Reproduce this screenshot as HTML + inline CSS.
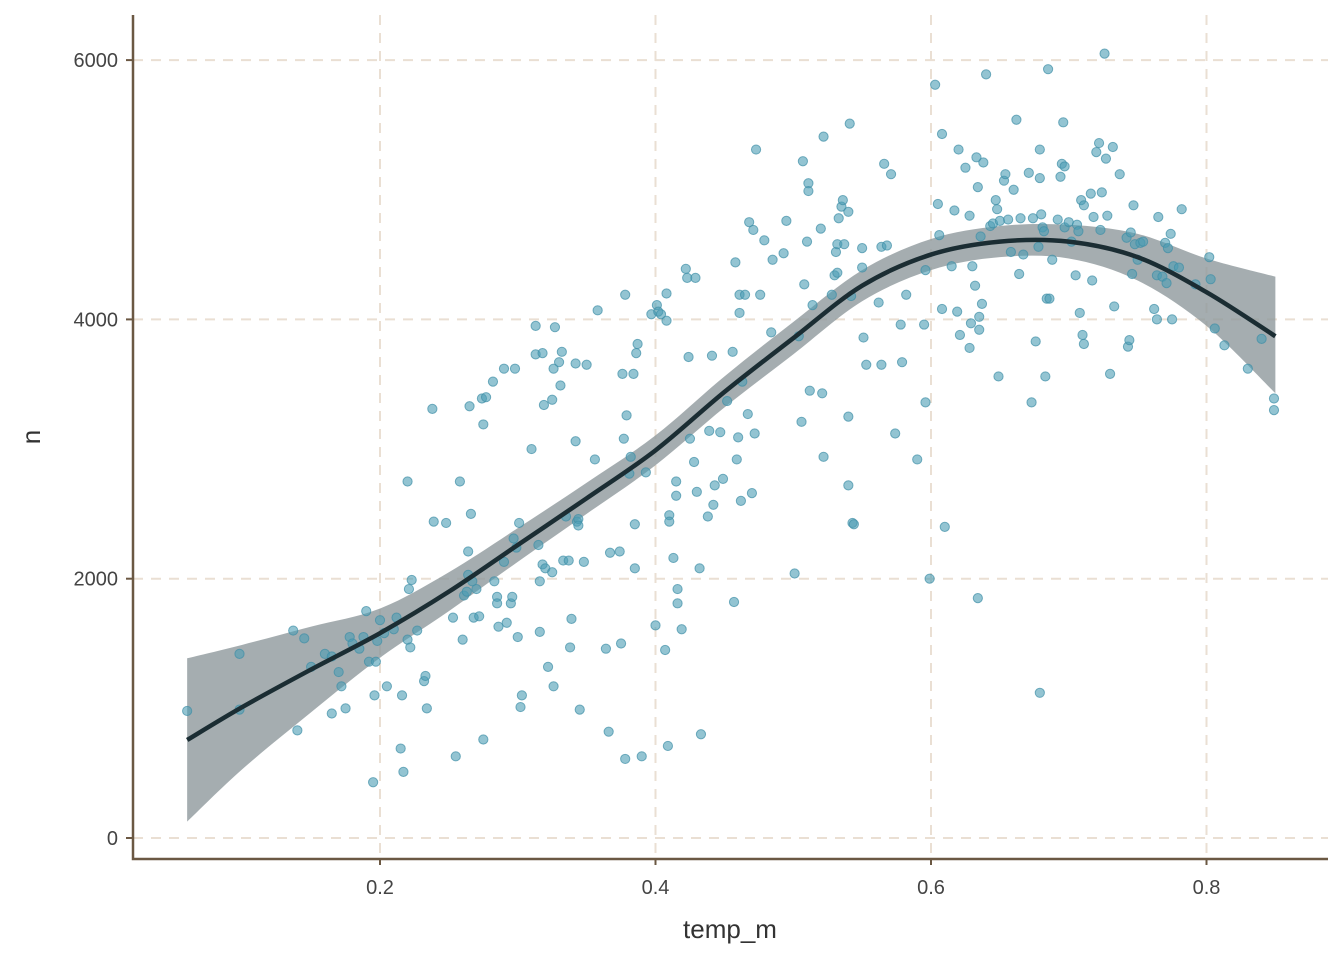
<!DOCTYPE html>
<html><head><meta charset="utf-8"><style>
html,body{margin:0;padding:0;background:#fff;}
svg{display:block;font-family:"Liberation Sans",Arial,sans-serif;}
</style></head><body>
<svg id="chart" width="1344" height="960" viewBox="0 0 1344 960">
<g id="grid"></g>
<g id="band"></g>
<g id="pts"></g>
<g id="fit"></g>
<g id="axes"></g>
<text x="730" y="938" text-anchor="middle" font-size="26" fill="#333">temp_m</text>
<text x="0" y="0" transform="translate(40,437) rotate(-90)" text-anchor="middle" font-size="26" fill="#333">n</text>
</svg>
<script>
const xTicks=[0.2,0.4,0.6,0.8];
const yTicks=[0,2000,4000,6000];
const ptX=[0.06,0.098,0.098,0.137,0.14,0.145,0.15,0.16,0.165,0.165,0.17,0.172,0.175,0.178,0.18,0.185,0.188,0.19,0.192,0.195,0.196,0.197,0.198,0.2,0.203,0.205,0.21,0.212,0.215,0.216,0.217,0.22,0.22,0.221,0.222,0.223,0.227,0.232,0.233,0.234,0.238,0.239,0.248,0.253,0.255,0.258,0.26,0.261,0.263,0.264,0.264,0.265,0.266,0.267,0.268,0.27,0.272,0.274,0.275,0.275,0.277,0.282,0.283,0.285,0.285,0.286,0.29,0.29,0.292,0.295,0.296,0.297,0.298,0.299,0.3,0.301,0.302,0.303,0.31,0.313,0.313,0.315,0.316,0.316,0.318,0.318,0.319,0.32,0.322,0.325,0.325,0.326,0.326,0.327,0.33,0.331,0.332,0.333,0.335,0.337,0.338,0.339,0.342,0.342,0.343,0.344,0.344,0.345,0.348,0.35,0.356,0.358,0.364,0.366,0.367,0.374,0.375,0.376,0.377,0.378,0.378,0.379,0.381,0.382,0.384,0.385,0.386,0.387,0.385,0.39,0.393,0.397,0.4,0.401,0.402,0.404,0.407,0.408,0.408,0.409,0.41,0.41,0.413,0.415,0.415,0.416,0.416,0.419,0.422,0.423,0.424,0.425,0.428,0.429,0.43,0.432,0.433,0.438,0.439,0.441,0.442,0.443,0.447,0.449,0.452,0.456,0.457,0.458,0.459,0.46,0.461,0.461,0.462,0.463,0.465,0.467,0.468,0.47,0.471,0.472,0.473,0.476,0.479,0.484,0.485,0.493,0.495,0.501,0.504,0.506,0.507,0.508,0.51,0.511,0.511,0.512,0.514,0.52,0.521,0.522,0.522,0.528,0.53,0.531,0.532,0.532,0.533,0.535,0.536,0.537,0.54,0.541,0.54,0.54,0.542,0.543,0.544,0.55,0.55,0.551,0.553,0.562,0.564,0.564,0.566,0.568,0.571,0.574,0.578,0.579,0.582,0.59,0.595,0.596,0.596,0.599,0.603,0.605,0.606,0.608,0.608,0.61,0.615,0.617,0.619,0.62,0.621,0.625,0.628,0.628,0.629,0.63,0.632,0.633,0.634,0.634,0.635,0.635,0.636,0.637,0.638,0.64,0.643,0.645,0.647,0.648,0.649,0.65,0.653,0.654,0.656,0.658,0.66,0.662,0.664,0.665,0.667,0.671,0.673,0.674,0.676,0.678,0.679,0.679,0.679,0.68,0.681,0.682,0.683,0.684,0.685,0.686,0.688,0.692,0.694,0.695,0.696,0.697,0.697,0.7,0.702,0.705,0.706,0.707,0.708,0.709,0.71,0.711,0.711,0.716,0.717,0.718,0.72,0.722,0.723,0.724,0.726,0.727,0.728,0.73,0.732,0.733,0.737,0.742,0.743,0.744,0.745,0.746,0.747,0.748,0.75,0.752,0.754,0.762,0.764,0.764,0.765,0.768,0.77,0.771,0.772,0.774,0.775,0.776,0.78,0.782,0.792,0.802,0.803,0.806,0.813,0.83,0.84,0.849,0.849];
const ptY=[980,1420,990,1600,830,1540,1320,1420,1400,960,1280,1170,1000,1550,1500,1460,1550,1750,1360,430,1100,1360,1520,1680,1580,1170,1610,1700,690,1100,510,2750,1530,1920,1470,1990,1600,1210,1250,1000,3310,2440,2430,1700,630,2750,1530,1870,1900,2210,2030,3330,2500,1980,1700,1920,1710,3390,3190,760,3400,3520,1980,1860,1810,1630,3620,2130,1660,1810,1860,2310,3620,2240,1550,2430,1010,1100,3000,3730,3950,2260,1980,1590,3740,2110,3340,2080,1320,3380,2050,3620,1170,3940,3670,3490,3750,2140,2480,2140,1470,1690,3660,3060,2440,2460,2410,990,2130,3650,2920,4070,1460,820,2200,2210,1500,3580,3080,610,4190,3260,2810,2940,3580,2080,3740,3810,2420,630,2820,4040,1640,4110,4060,4040,1450,4200,3990,710,2490,2440,2160,2750,2640,1810,1920,1610,4390,4320,3710,3080,2900,4320,2670,2080,800,2480,3140,3720,2570,2720,3130,2770,3370,3750,1820,4440,2920,3090,4190,4050,2600,3520,4190,3270,4750,2660,4690,3120,5310,4190,4610,3900,4460,4510,4760,2040,3870,3210,5220,4270,4600,5050,4990,3450,4110,4700,3430,5410,2940,4190,4340,4520,4580,4360,4780,4870,4920,4580,4830,5510,3250,2720,4180,2430,2420,4550,4400,3860,3650,4130,4560,3650,5200,4570,5120,3120,3960,3670,4190,2920,3960,3360,4380,2000,5810,4890,4650,4080,5430,2400,4410,4840,4060,5310,3880,5170,4800,3780,3970,4410,4260,5250,5020,1850,3920,4020,4640,4120,5210,5890,4720,4740,4920,4850,3560,4760,5070,5120,4770,4520,5000,5540,4350,4780,4500,5130,3360,4780,3830,4560,5310,1120,5090,4810,4710,4680,3560,4160,5930,4160,4460,4770,5100,5200,5520,5180,4710,4750,4600,4340,4730,4680,4050,4920,3880,4880,3810,4970,4300,4790,5290,5360,4690,4980,6050,5240,4800,3580,5330,4100,5120,4630,3790,3840,4670,4350,4880,4580,4460,4590,4600,4080,4340,4000,4790,4330,4590,4280,4550,4660,4000,4410,4400,4850,4270,4480,4310,3930,3800,3620,3850,3390,3300];
const fitX=[0.06,0.1,0.15,0.2,0.25,0.3,0.35,0.4,0.45,0.5,0.55,0.6,0.65,0.7,0.75,0.8,0.85];
const fitY=[756,1010,1300,1580,1900,2260,2620,2990,3440,3855,4260,4500,4600,4600,4480,4210,3870];
const fitLo=[126,530,970,1390,1750,2130,2500,2875,3320,3730,4140,4380,4480,4470,4300,3950,3430];
const fitHi=[1386,1490,1630,1770,2050,2390,2740,3105,3560,3980,4380,4620,4720,4730,4660,4470,4330];

const NS="http://www.w3.org/2000/svg";
const X=v=>104.5+v*1377.5;
const Y=v=>838-v*0.12965;
function mk(tag,attrs,parent){const e=document.createElementNS(NS,tag);for(const k in attrs)e.setAttribute(k,attrs[k]);parent.appendChild(e);return e;}
const grid=document.getElementById('grid'),axes=document.getElementById('axes');
xTicks.forEach(t=>{
 const l=mk('line',{x1:X(t),x2:X(t),y1:15,y2:858,stroke:'#eadfd3','stroke-width':2,'stroke-dasharray':'10,8'},grid);
 
 
 const tk=mk('line',{x1:X(t),x2:X(t),y1:858,y2:865,stroke:'#6b5843','stroke-width':2},axes);
 
 
 const tx=mk('text',{x:X(t),y:894,'text-anchor':'middle','font-size':20,fill:'#444'},axes);
 tx.textContent=t.toFixed(1);
 
 
});
yTicks.forEach(t=>{
 const l=mk('line',{x1:133,x2:1328,y1:Y(t),y2:Y(t),stroke:'#eadfd3','stroke-width':2,'stroke-dasharray':'10,8'},grid);
 
 
 const tk=mk('line',{x1:126,x2:133,y1:Y(t),y2:Y(t),stroke:'#6b5843','stroke-width':2},axes);
 
 
 const tx=mk('text',{x:118,y:Y(t)+7,'text-anchor':'end','font-size':20,fill:'#444'},axes);
 tx.textContent=String(t);
 
 
});
const ax=mk('path',{d:'M133,15 L133,859 L1328,859',fill:'none',stroke:'#6b5843','stroke-width':2.5},axes);


function smooth(pts){let d='M'+pts[0][0]+','+pts[0][1];for(let i=0;i<pts.length-1;i++){const p0=pts[Math.max(i-1,0)],p1=pts[i],p2=pts[i+1],p3=pts[Math.min(i+2,pts.length-1)];d+=' C'+(p1[0]+(p2[0]-p0[0])/6)+','+(p1[1]+(p2[1]-p0[1])/6)+' '+(p2[0]-(p3[0]-p1[0])/6)+','+(p2[1]-(p3[1]-p1[1])/6)+' '+p2[0]+','+p2[1];}return d;}
const hi=fitX.map((x,i)=>[X(x),Y(fitHi[i])]);
const lo=fitX.map((x,i)=>[X(x),Y(fitLo[i])]).reverse();
const bd=smooth(hi)+' L'+lo[0][0]+','+lo[0][1]+smooth(lo).replace(/^M[^ ]+/,'')+' Z';
const band=mk('path',{d:bd,fill:'#8e989c','fill-opacity':0.8},document.getElementById('band'));


const pg=document.getElementById('pts');
ptX.forEach((x,i)=>{
 const c=mk('circle',{cx:X(x),cy:Y(ptY[i]),r:4.6,fill:'#4b9db4','fill-opacity':0.6,stroke:'#3f8ea6','stroke-opacity':0.7,'stroke-width':1},pg);
 
 
});
const fl=mk('path',{d:smooth(fitX.map((x,i)=>[X(x),Y(fitY[i])])),fill:'none',stroke:'#1b2d33','stroke-width':4.5},document.getElementById('fit'));


</script>
</body></html>
